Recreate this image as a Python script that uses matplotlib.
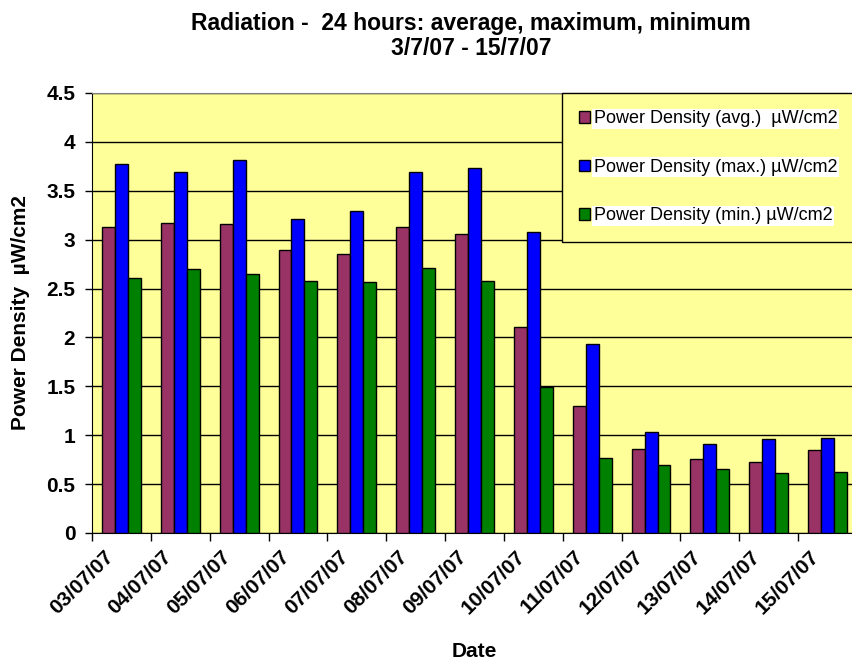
import numpy as np
import matplotlib
matplotlib.use("Agg")
import matplotlib.pyplot as plt
import matplotlib.transforms as mtransforms

plt.rcParams['font.family'] = ['Liberation Sans', 'DejaVu Sans']

# data
dates = ["03/07/07", "04/07/07", "05/07/07", "06/07/07", "07/07/07", "08/07/07", "09/07/07",
         "10/07/07", "11/07/07", "12/07/07", "13/07/07", "14/07/07", "15/07/07"]
pd_avg = [3.13, 3.17, 3.16, 2.89, 2.85, 3.13, 3.06, 2.11, 1.30, 0.86, 0.76, 0.73, 0.85]
pd_max = [3.77, 3.69, 3.81, 3.21, 3.29, 3.69, 3.73, 3.08, 1.93, 1.03, 0.91, 0.96, 0.97]
pd_min = [2.61, 2.70, 2.65, 2.58, 2.57, 2.71, 2.58, 1.49, 0.77, 0.70, 0.65, 0.61, 0.62]

series_names = ["Power Density (avg.)  µW/cm2",
                "Power Density (max.) µW/cm2",
                "Power Density (min.) µW/cm2"]
colors = ["#993366", "#0000FF", "#008000"]

fig = plt.figure(figsize=(8.52, 6.63), dpi=100)
ax = fig.add_axes([92/852, 1-533/663, (857-92)/852, (533-93)/663])
ax.set_facecolor("#FFFF99")

x = np.arange(len(dates))
w = 0.22
for i, (vals, name, c) in enumerate(zip([pd_avg, pd_max, pd_min], series_names, colors)):
    ax.bar(x + (i-1)*w, vals, width=w, color=c, edgecolor="black", linewidth=1.0,
           label=name, zorder=3)

ax.set_xlim(-0.5, len(dates)-0.5)
ax.set_ylim(0, 4.5)
yt = np.arange(0, 4.51, 0.5)
ax.set_yticks(yt)
ax.set_yticklabels([f"{v:g}" for v in yt], fontsize=15, fontweight="bold")
ax.yaxis.grid(True, color="black", linewidth=1.0, zorder=0)
ax.set_axisbelow(True)

ax.set_xticks(x)
ax.set_xticklabels(dates, rotation=45, ha="right", va="top", rotation_mode="anchor",
                   fontsize=15, fontweight="bold")
ax.tick_params(axis="x", which="major", length=0, pad=10)
shift = mtransforms.ScaledTranslation(-13/72, 0, fig.dpi_scale_trans)
for lab in ax.get_xticklabels():
    lab.set_transform(lab.get_transform() + shift)
ax.set_xticks(np.arange(-0.5, len(dates), 1.0), minor=True)
ax.tick_params(axis="x", which="minor", length=6, width=1, direction="out")
ax.tick_params(axis="y", length=5, width=1, direction="out", pad=7)

ax.spines["right"].set_visible(False)
ax.spines["top"].set_color("#808080")
ax.spines["left"].set_color("black")
ax.spines["bottom"].set_color("black")

ax.set_xlabel("Date", fontsize=15, fontweight="bold")
ax.xaxis.set_label_coords(0.5, -(642 - 533) / 440)
ax.set_ylabel("Power Density  µW/cm2", fontsize=15, fontweight="bold")
ax.yaxis.set_label_coords((30 - 92) / 765, 0.5)

fig.text(0.553, 0.982, "Radiation -  24 hours: average, maximum, minimum\n3/7/07 - 15/7/07",
         ha="center", va="top", fontsize=16.5, fontweight="bold", linespacing=1.1)

leg = ax.legend(loc="upper left", bbox_to_anchor=((562-92)/765, 1.0), fontsize=13,
                frameon=True, fancybox=False, edgecolor="black", facecolor="#FFFF99",
                framealpha=1, borderpad=0.95, labelspacing=1.75, handlelength=0.6,
                handleheight=0.6, handletextpad=0.2, borderaxespad=0)
leg.get_frame().set_linewidth(1.0)
leg.set_zorder(5)
for t in leg.get_texts():
    t.set_bbox(dict(facecolor="white", edgecolor="none", pad=1))

fig.savefig("out.png", dpi=100)
